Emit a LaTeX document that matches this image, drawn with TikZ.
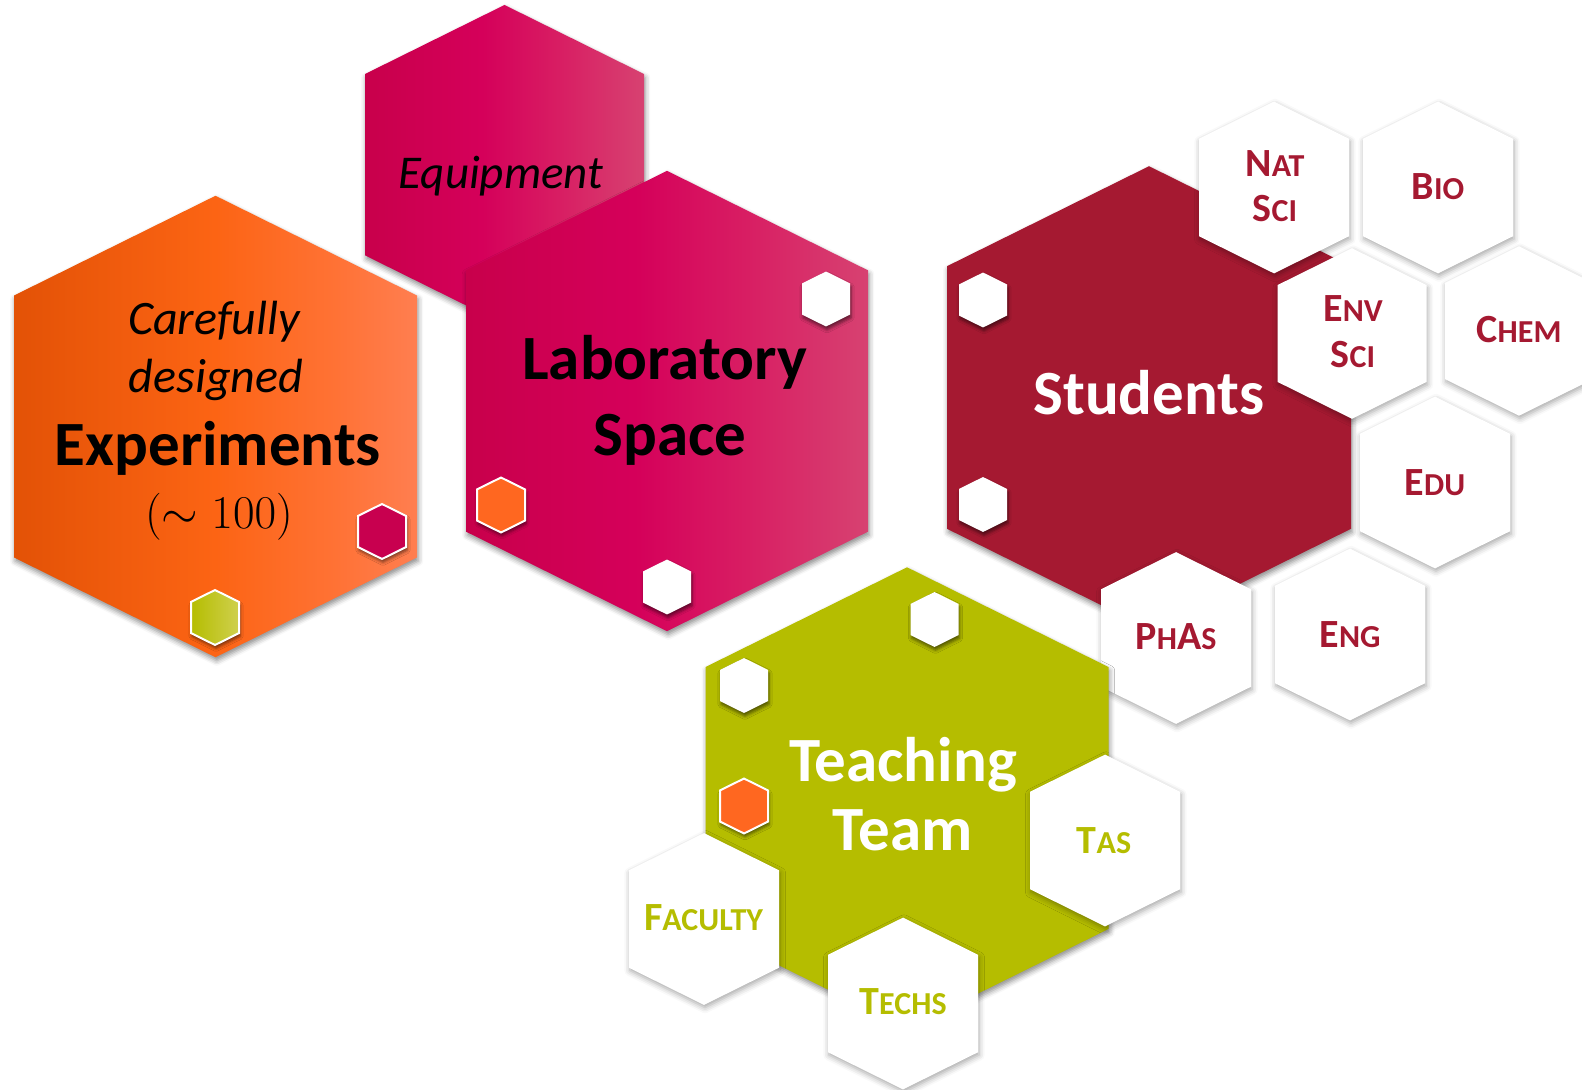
\RequirePackage{fix-cm}
\documentclass[tikz,border=0pt]{standalone}
\usepackage{fontspec}
\setmainfont{Carlito}
\usetikzlibrary{shadows.blur}

% palette
\definecolor{expL}{HTML}{E35206}
\definecolor{expM}{HTML}{FC6414}
\definecolor{expX}{HTML}{FF7235}
\definecolor{expR}{HTML}{FF7E50}
\definecolor{magL}{HTML}{C8004B}
\definecolor{magM}{HTML}{D5005A}
\definecolor{magX}{HTML}{D81E63}
\definecolor{magR}{HTML}{D74271}
\definecolor{studred}{HTML}{A51931}
\definecolor{teamgreen}{HTML}{B5BD00}
\definecolor{greenR}{HTML}{CFD04E}
\definecolor{markorange}{HTML}{FF6720}
\definecolor{markmag}{HTML}{C8004F}

% left-to-right fills (the path spans 25bp..75bp of the shading)
\pgfdeclarehorizontalshading{orangeshade}{100bp}{color(0bp)=(expL); color(25bp)=(expL);
  color(50bp)=(expM); color(65bp)=(expX); color(75bp)=(expR); color(100bp)=(expR)}
\pgfdeclarehorizontalshading{magentashade}{100bp}{color(0bp)=(magL); color(25bp)=(magL);
  color(46bp)=(magM); color(60bp)=(magX); color(75bp)=(magR); color(100bp)=(magR)}

% pointy-top hexagon around a named centre, half-width #3
\newcommand\hexcell[3][]{%
  \path[#1, shift={(#2)}] (0,-1.145*#3) -- (#3,-0.65*#3) -- (#3,0.65*#3)
    -- (0,1.145*#3) -- (-#3,0.65*#3) -- (-#3,-0.65*#3) -- cycle;}
% synthetic small capitals
\newcommand\smc[2]{#1{\fontsize{16}{16}\selectfont #2}}

\begin{document}
\begin{tikzpicture}[x=0.5pt,y=-0.5pt,
  bigshadow/.style={blur shadow={shadow xshift=0.6pt, shadow yshift=-1.8pt,
      shadow blur radius=2.5pt, shadow opacity=45}},
  tileshadow/.style={blur shadow={shadow xshift=0.5pt, shadow yshift=-1.4pt,
      shadow blur radius=2.8pt, shadow opacity=35}},
  whitetile/.style={fill=white, tileshadow},
  marker/.style={blur shadow={shadow xshift=0.5pt, shadow yshift=-1.6pt,
      shadow blur radius=1.6pt, shadow opacity=55}},
  ringed/.style={marker, draw=white, line width=1pt},
  orangefill/.style={shading=orangeshade, shading angle=0},
  magentafill/.style={shading=magentashade, shading angle=0},
  bigtext/.style={font=\fontsize{31.5}{31.5}\selectfont\bfseries,
      inner sep=0pt, anchor=base},
  slanttext/.style={font=\fontsize{24}{24}\selectfont\itshape,
      inner sep=0pt, anchor=base},
  tiletext/.style={font=\fontsize{20}{20}\selectfont\bfseries,
      inner sep=0pt, anchor=base},
]
\useasboundingbox (0,0) rectangle (1582,1090);

% centres
\coordinate (exp)   at (215.5,426.5);
\coordinate (equip) at (504.5,164.7);
\coordinate (lab)   at (667,401);
\coordinate (stud)  at (1149,397.5);
\coordinate (team)  at (907,798);
\coordinate (nat)   at (1274,187.5);
\coordinate (bio)   at (1438,187.5);
\coordinate (env)   at (1352,333.5);
\coordinate (chem)  at (1519,331);
\coordinate (edu)   at (1435,482.5);
\coordinate (phas)  at (1176,638);
\coordinate (eng)   at (1350,634.5);
\coordinate (tas)   at (1105,840.5);
\coordinate (fac)   at (704,919);
\coordinate (tech)  at (903,1003.5);
\coordinate (expM1) at (382,531.5);
\coordinate (expM2) at (215,617.5);
\coordinate (labM1) at (826,299);
\coordinate (labM2) at (501,505);
\coordinate (labM3) at (667,587);
\coordinate (studM1) at (983,300);
\coordinate (studM2) at (983,504.5);
\coordinate (teamM1) at (934.5,619.5);
\coordinate (teamM2) at (744,685.5);
\coordinate (teamM3) at (744,806);

% Experiments
\hexcell[bigshadow, orangefill]{exp}{201.5}
\hexcell[ringed, fill=markmag]{expM1}{24}
\hexcell[ringed, left color=teamgreen, right color=greenR]{expM2}{24}
\node[slanttext] (expA) at (214,335) {Carefully};
\node[slanttext] (expB) at (216,393) {designed};
\node[bigtext]   (expC) at (218,465) {Experiments};
\node[inner sep=0pt, anchor=base, font=\fontsize{23.5}{23.5}\selectfont]
  (expD) at (219,528) {$(\sim 100)$};

% Equipment and laboratory space
\hexcell[bigshadow, magentafill]{equip}{139.5}
\node[slanttext, font=\fontsize{23.5}{23.5}\selectfont\itshape] (equipT) at (501,189) {Equipment};
\hexcell[bigshadow, magentafill]{lab}{201}
\hexcell[marker, fill=white]{labM1}{24}
\hexcell[ringed, fill=markorange]{labM2}{24}
\hexcell[marker, fill=white]{labM3}{24}
\node[bigtext] (labA) at (664.5,380) {Laboratory};
\node[bigtext] (labB) at (670,455) {Space};

% Students and their departments
\hexcell[bigshadow, fill=studred]{stud}{202}
\hexcell[marker, fill=white]{studM1}{24}
\hexcell[marker, fill=white]{studM2}{24}
\node[bigtext, text=white] (studT) at (1149,415) {Students};

\hexcell[whitetile]{nat}{75}
\hexcell[whitetile]{bio}{75}
\hexcell[whitetile]{env}{74.5}
\hexcell[whitetile]{chem}{74}
\hexcell[whitetile]{edu}{75}
\hexcell[whitetile]{phas}{75}
\hexcell[whitetile]{eng}{75}
\begin{scope}[every node/.style={tiletext, text=studred}]
\node (natA)  at (1275,177) {\smc{N}{AT}};
\node (natB)  at (1275,222) {\smc{S}{CI}};
\node (bioT)  at (1438,200) {\smc{B}{IO}};
\node (envA)  at (1353,322) {\smc{E}{NV}};
\node (envB)  at (1353,368) {\smc{S}{CI}};
\node (chemT) at (1519,343) {\smc{C}{HEM}};
\node (eduT)  at (1435,495) {\smc{E}{DU}};
\node (phasT) at (1176,649) {\smc{P}{H}A{\fontsize{16}{16}\selectfont S}};
\node (engT)  at (1350,647) {\smc{E}{NG}};
\end{scope}

% Teaching team
\hexcell[bigshadow, fill=teamgreen]{team}{201.5}
\hexcell[marker, fill=white]{teamM1}{24}
\hexcell[marker, fill=white]{teamM2}{24}
\hexcell[ringed, fill=markorange]{teamM3}{24}
\node[bigtext, text=white] (teachA) at (903,781) {Teaching};
\node[bigtext, text=white] (teachB) at (902.5,850) {Team};

\hexcell[whitetile]{tas}{75}
\hexcell[whitetile]{fac}{75}
\hexcell[whitetile]{tech}{75}
\begin{scope}[every node/.style={tiletext, text=teamgreen}]
\node (tasT)  at (1104,853) {\smc{T}{AS}};
\node (facT)  at (703.5,930) {\smc{F}{ACULTY}};
\node (techT) at (903,1014) {\smc{T}{ECHS}};
\end{scope}
\end{tikzpicture}
\end{document}
